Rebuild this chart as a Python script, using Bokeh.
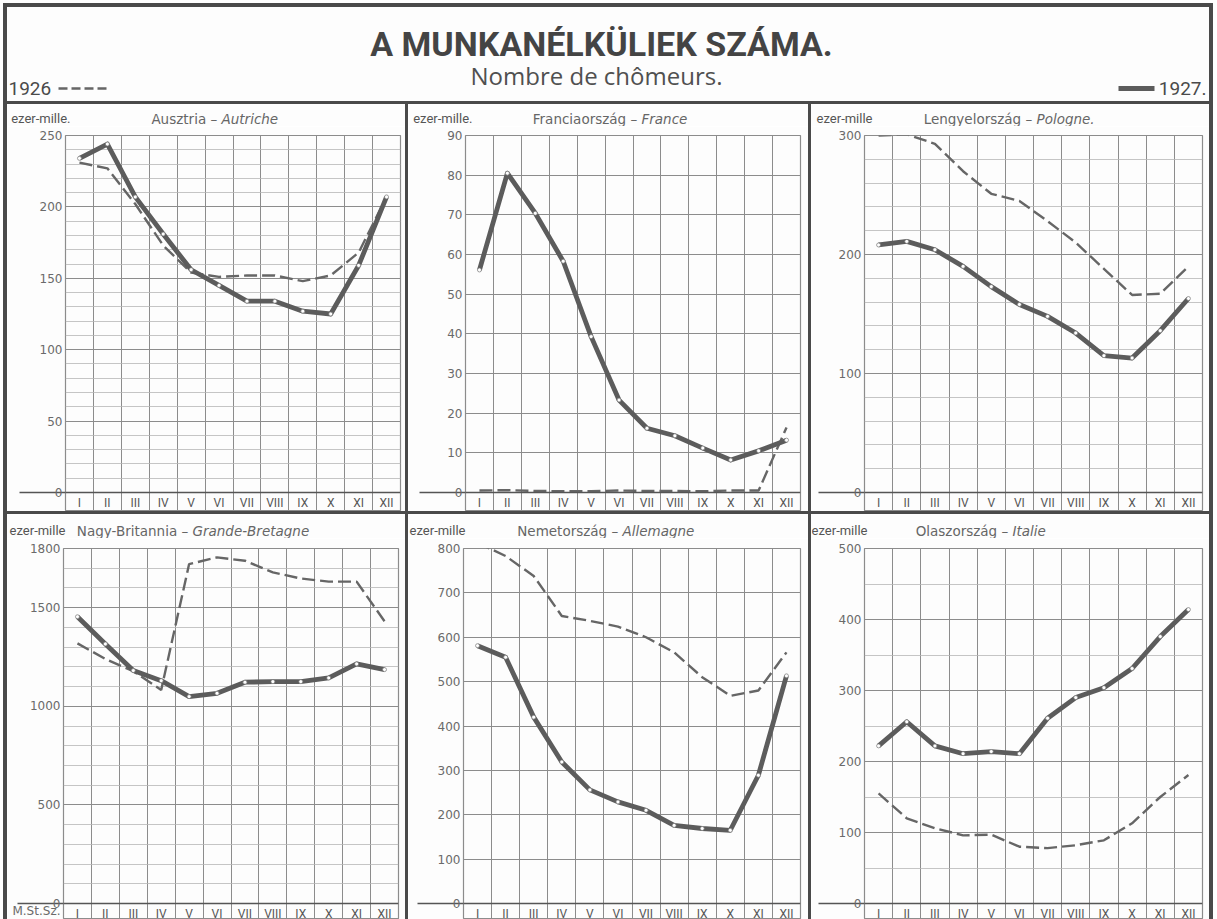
from bokeh.plotting import figure
from bokeh.layouts import row, column
from bokeh.models import Range1d, FixedTicker, Label, Div
from bokeh.embed import file_html
from bokeh.resources import INLINE

# ---------------- data ----------------
months = ["I", "II", "III", "IV", "V", "VI", "VII", "VIII", "IX", "X", "XI", "XII"]
years = ["1926", "1927."]

austria_1926 = [231, 227, 202, 173, 154, 151, 152, 152, 148, 152, 168, 207]
austria_1927 = [234, 244, 207, 181, 156, 145, 134, 134, 127, 125, 159, 207]
france_1926 = [0.5, 0.6, 0.4, 0.3, 0.3, 0.5, 0.4, 0.4, 0.3, 0.5, 0.5, 16.4]
france_1927 = [56.1, 80.5, 70.4, 58.3, 39.3, 23.3, 16.2, 14.3, 11.2, 8.2, 10.5, 13.2]
poland_1926 = [300, 301, 293, 270, 251, 245, 228, 210, 188, 166, 167, 190]
poland_1927 = [208, 211, 204, 190, 173, 158, 148, 134, 115, 113, 136, 163]
britain_1926 = [1319, 1240, 1178, 1083, 1721, 1755, 1738, 1679, 1648, 1632, 1632, 1431]
britain_1927 = [1454, 1316, 1181, 1130, 1049, 1066, 1122, 1125, 1125, 1144, 1215, 1186]
germany_1926 = [813, 783, 738, 648, 637, 624, 600, 566, 510, 468, 480, 566]
germany_1927 = [581, 555, 420, 319, 256, 229, 210, 176, 169, 165, 289, 513]
italy_1926 = [155, 120, 106, 96, 97, 80, 78, 82, 89, 113, 150, 181]
italy_1927 = [222, 256, 222, 211, 214, 211, 261, 290, 304, 331, 376, 414]

austria_ticks = [0, 50, 100, 150, 200, 250]
france_ticks = [0, 10, 20, 30, 40, 50, 60, 70, 80, 90]
poland_ticks = [0, 100, 200, 300]
britain_ticks = [0, 500, 1000, 1500, 1800]
germany_ticks = [0, 100, 200, 300, 400, 500, 600, 700, 800]
italy_ticks = [0, 100, 200, 300, 400, 500]

title_main = "A MUNKANÉLKÜLIEK SZÁMA."
title_sub = "Nombre de chômeurs."
source_note = "M.St.Sz."

# ---------------- style ----------------
BG = "#fdfdfd"
BORDER = "#4a4a4a"
GRID_MAJ = "#8c8c8c"
GRID_MIN = "#b6b6b6"
TEXT = "#555555"
C26 = "#666666"
C27 = "#5c5c5c"
ZERO_OUT = 46

x_pos = list(range(1, len(months) + 1))


def no_align(f):
    try:
        f.frame_align = False
    except AttributeError:
        pass
    return f


def bare(width, height):
    f = figure(width=width, height=height, output_backend="svg", toolbar_location=None,
               x_range=Range1d(0, width), y_range=Range1d(0, height),
               x_axis_type=None, y_axis_type=None, min_border=0,
               background_fill_color=BG, border_fill_color=BG, outline_line_color=None)
    f.grid.visible = False
    return no_align(f)


def make_panel(hu, fr, unit, y26, y27, ticks, minor_step, width, title_h, plot_h,
               b_left, b_right, b_top, zero_px, title_at, unit_at, note=None):
    # --- title strip ---
    t = bare(width, title_h)
    t.add_layout(Label(x=title_at, y=8, text=hu, text_align="right", text_baseline="middle",
                       text_font="DejaVu Sans", text_font_size="13.5px", text_color="#666666"))
    t.add_layout(Label(x=title_at, y=8, text=fr, text_align="left", text_baseline="middle",
                       text_font="DejaVu Sans", text_font_size="13.5px",
                       text_font_style="italic", text_color="#666666"))
    t.add_layout(Label(x=unit_at, y=8, text=unit, text_align="right", text_baseline="middle",
                       text_font="Roboto", text_font_size="13px", text_color=TEXT))

    # --- chart ---
    top = ticks[-1]
    frame_h = plot_h - b_top
    ext = top * zero_px / (frame_h - zero_px)
    p = figure(width=width, height=plot_h, output_backend="svg", toolbar_location=None,
               x_range=Range1d(0.5, len(months) + 0.5), y_range=Range1d(-ext, top),
               min_border_left=b_left, min_border_right=b_right,
               min_border_top=b_top, min_border_bottom=0,
               background_fill_color=BG, border_fill_color=BG,
               outline_line_color=GRID_MAJ, outline_line_width=1.2)
    no_align(p)
    minor = [v for v in range(0, top, minor_step) if v not in ticks] if minor_step else []

    axis_ticks = list(ticks)
    overrides = {}
    if note:
        note_at = round(-ext / 2, 3)
        axis_ticks = [note_at] + axis_ticks
        overrides = {note_at: note}
    yax = p.yaxis[0]
    # the minor tick at 0 is the zero line running out under the "0" label
    yax.ticker = FixedTicker(ticks=axis_ticks, minor_ticks=[0])
    yax.major_label_overrides = overrides
    yax.axis_line_color = None
    yax.major_tick_in = 0
    yax.major_tick_out = 0
    yax.minor_tick_in = 0
    yax.minor_tick_out = ZERO_OUT
    yax.minor_tick_line_color = "#555555"
    yax.minor_tick_line_width = 1.4
    yax.major_label_standoff = 3 - ZERO_OUT
    yax.major_label_text_font = "DejaVu Sans"
    yax.major_label_text_font_size = "12px"
    yax.major_label_text_color = "#6a6a6a"

    xax = p.xaxis[0]
    xax.fixed_location = 0
    xax.ticker = FixedTicker(ticks=x_pos)
    xax.major_label_overrides = {i: m for i, m in zip(x_pos, months)}
    xax.major_tick_in = 0
    xax.major_tick_out = 0
    xax.minor_tick_in = 0
    xax.minor_tick_out = 0
    xax.axis_line_color = "#555555"
    xax.axis_line_width = 1.6
    xax.major_label_standoff = 3
    xax.major_label_text_font = "Roboto"
    xax.major_label_text_font_size = "12px"
    xax.major_label_text_color = TEXT

    p.xgrid.ticker = FixedTicker(ticks=[i + 0.5 for i in range(len(months) + 1)])
    p.xgrid.grid_line_color = GRID_MAJ
    p.xgrid.grid_line_width = 1
    p.ygrid.ticker = FixedTicker(ticks=ticks, minor_ticks=minor)
    p.ygrid.grid_line_color = GRID_MAJ
    p.ygrid.grid_line_width = 1
    p.ygrid.minor_grid_line_color = GRID_MIN
    p.ygrid.minor_grid_line_width = 0.8

    p.line(x_pos, y26, line_color=C26, line_width=2.4, line_dash="13 5")
    p.line(x_pos, y27, line_color=C27, line_width=4.8, line_join="round")
    p.scatter(x_pos, y27, size=4, fill_color="white", line_color="#777777", line_width=0.7)
    return column(t, p, spacing=0)


# top row: 104..511, bottom row: 514..919 (page px)
TT, TP = 22, 385
BT, BP = 24, 381
p1 = make_panel("Ausztria – ", "Autriche", "ezer-mille.", austria_1926, austria_1927,
                austria_ticks, 10, 398, TT, TP, 58, 5, 9, 19, 214, 63)
p2 = make_panel("Franciaország – ", "France", "ezer-mille.", france_1926, france_1927,
                france_ticks, 0, 400, TT, TP, 57, 8, 9, 19, 233, 64)
p3 = make_panel("Lengyelország – ", "Pologne.", "ezer-mille", poland_1926, poland_1927,
                poland_ticks, 20, 398, TT, TP, 53, 7, 9, 19, 225, 61)
p4 = make_panel("Nagy-Britannia – ", "Grande-Bretagne", "ezer-mille", britain_1926, britain_1927,
                britain_ticks, 100, 398, BT, BP, 56, 7, 10, 16, 185, 58, note=source_note)
p5 = make_panel("Nemetország – ", "Allemagne", "ezer-mille", germany_1926, germany_1927,
                germany_ticks, 0, 400, BT, BP, 55, 8, 10, 16, 214, 57)
p6 = make_panel("Olaszország – ", "Italie", "ezer-mille", italy_1926, italy_1927,
                italy_ticks, 50, 398, BT, BP, 53, 7, 10, 16, 201, 56)

# ---------------- header ----------------
HW, HH = 1202, 94
h = bare(HW, HH)
h.add_layout(Label(x=594, y=58, text=title_main, text_align="center", text_baseline="middle",
                   text_font="Roboto", text_font_size="34px", text_font_style="bold",
                   text_color="#444444"))
h.add_layout(Label(x=589, y=26, text=title_sub, text_align="center", text_baseline="middle",
                   text_font="Open Sans", text_font_size="24px", text_color="#505050"))
h.add_layout(Label(x=1, y=13, text=years[0], text_align="left", text_baseline="middle",
                   text_font="Roboto", text_font_size="19px", text_color="#4a4a4a"))
h.add_layout(Label(x=1199, y=13, text=years[1], text_align="right", text_baseline="middle",
                   text_font="Roboto", text_font_size="19px", text_color="#4a4a4a"))
h.line([51, 103], [13, 13], line_color=C26, line_width=2.4, line_dash="9 4")
h.line([1111, 1147], [13, 13], line_color=C27, line_width=4.8)


def bar(w, hgt, color=BORDER):
    return Div(text="", width=w, height=hgt, margin=(0, 0, 0, 0),
               styles={"background-color": color})


TOP_H = TT + TP
BOT_H = BT + BP
body = column(
    bar(1210, 4),
    row(bar(4, HH), h, bar(4, HH), spacing=0),
    bar(1210, 3),
    row(bar(4, TOP_H), p1, bar(3, TOP_H), p2, bar(3, TOP_H), p3, bar(4, TOP_H), spacing=0),
    bar(1210, 3),
    row(bar(4, BOT_H), p4, bar(3, BOT_H), p5, bar(3, BOT_H), p6, bar(4, BOT_H), spacing=0),
    spacing=0,
)
layout = column(
    bar(1217, 3, "#ffffff"),
    row(bar(3, 916, "#ffffff"), body, bar(4, 916, "#ffffff"), spacing=0),
    spacing=0,
)

open("out.html", "w").write(file_html(layout, INLINE))
